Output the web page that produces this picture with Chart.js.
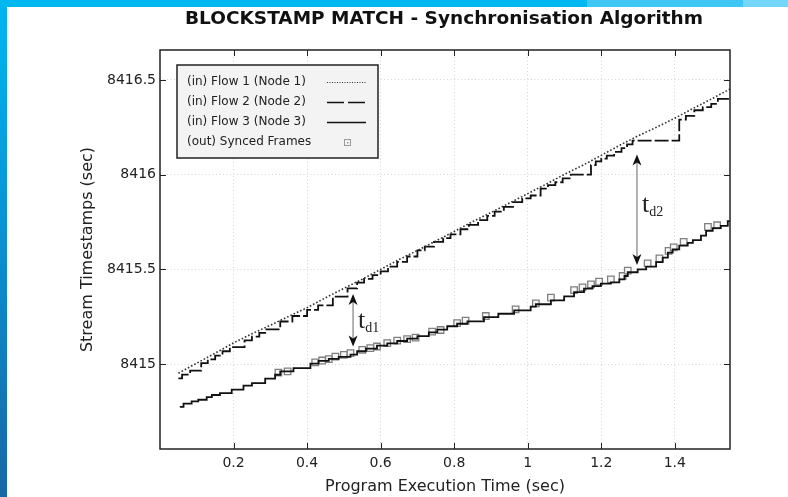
<!DOCTYPE html>
<html><head><meta charset="utf-8">
<script src="https://cdn.jsdelivr.net/npm/chart.js@4.4.1/dist/chart.umd.min.js"></script>
<style>
html,body{margin:0;padding:0;background:#fff;width:788px;height:497px;overflow:hidden}
#wrap{position:relative;width:788px;height:497px}
canvas{position:absolute;left:0;top:0}
#leftbar{position:absolute;left:0;top:0;width:7px;height:497px;background:linear-gradient(180deg,#00b6f0 0%,#0a93d3 45%,#1767a6 100%)}
#topbar{position:absolute;left:0;top:0;width:788px;height:7px;background:linear-gradient(90deg,#00b8f0 0%,#00b8f0 74.5%,#3ec6f5 74.5%,#3ec6f5 94.3%,#74d6f8 94.3%,#74d6f8 100%)}
</style></head>
<body><div id="wrap"><canvas id="c" width="788" height="497"></canvas><div id="leftbar"></div><div id="topbar"></div></div>
<script>
const titleText = 'BLOCKSTAMP MATCH - Synchronisation Algorithm';
const xTitle = 'Program Execution Time (sec)';
const yTitle = 'Stream Timestamps (sec)';
const seriesLabels = ['(in) Flow 1 (Node 1)', '(in) Flow 2 (Node 2)', '(in) Flow 3 (Node 3)', '(out) Synced Frames'];

const xTickValues = [0.2, 0.4, 0.6, 0.8, 1.0, 1.2, 1.4];
const xTickLabels = ['0.2', '0.4', '0.6', '0.8', '1', '1.2', '1.4'];
const yTickValues = [8415, 8415.5, 8416, 8416.5];
const yTickLabels = ['8415', '8415.5', '8416', '8416.5'];

const flow1Time = [0.05,0.10,0.15,0.20,0.25,0.30,0.35,0.40,0.45,0.50,0.55,0.60,0.65,0.70,0.75,0.80,0.85,0.90,0.95,1.00,1.05,1.10,1.15,1.20,1.25,1.30,1.35,1.40,1.45,1.50,1.55];
const flow1Stamp = [8414.952,8415.005,8415.058,8415.112,8415.160,8415.205,8415.252,8415.298,8415.350,8415.400,8415.448,8415.500,8415.552,8415.600,8415.650,8415.700,8415.752,8415.800,8415.850,8415.900,8415.950,8416.002,8416.050,8416.102,8416.155,8416.205,8416.250,8416.298,8416.350,8416.400,8416.452];

const flow2Time = [0.050,0.060,0.082,0.112,0.130,0.150,0.170,0.190,0.230,0.250,0.270,0.286,0.327,0.360,0.400,0.430,0.470,0.510,0.536,0.555,0.578,0.600,0.620,0.645,0.672,0.700,0.720,0.745,0.770,0.790,0.817,0.840,0.865,0.890,0.910,0.935,0.960,0.985,1.008,1.035,1.055,1.075,1.095,1.117,1.172,1.185,1.200,1.215,1.235,1.255,1.270,1.285,1.412,1.430,1.453,1.476,1.499,1.517,1.553];
const flow2Stamp = [8414.925,8414.945,8414.966,8415.005,8415.025,8415.045,8415.068,8415.090,8415.125,8415.145,8415.165,8415.183,8415.225,8415.254,8415.286,8415.310,8415.356,8415.400,8415.430,8415.450,8415.470,8415.490,8415.515,8415.540,8415.568,8415.600,8415.620,8415.645,8415.665,8415.685,8415.712,8415.735,8415.760,8415.782,8415.805,8415.830,8415.855,8415.875,8415.890,8415.926,8415.945,8415.960,8415.980,8416.000,8416.050,8416.070,8416.085,8416.100,8416.120,8416.140,8416.160,8416.180,8416.290,8416.310,8416.340,8416.356,8416.374,8416.400,8416.400];

const flow3Time = [0.054,0.064,0.086,0.104,0.127,0.141,0.163,0.195,0.227,0.250,0.286,0.313,0.327,0.363,0.409,0.431,0.459,0.486,0.518,0.536,0.560,0.590,0.618,0.645,0.672,0.700,0.731,0.754,0.781,0.808,0.836,0.881,0.920,0.963,1.008,1.022,1.063,1.099,1.126,1.153,1.176,1.199,1.226,1.249,1.263,1.272,1.299,1.322,1.349,1.367,1.381,1.394,1.412,1.435,1.449,1.471,1.485,1.503,1.525,1.544,1.553];
const flow3Stamp = [8414.774,8414.791,8414.803,8414.812,8414.826,8414.837,8414.847,8414.865,8414.886,8414.900,8414.923,8414.944,8414.962,8414.979,8415.003,8415.017,8415.028,8415.038,8415.050,8415.068,8415.082,8415.098,8415.110,8415.122,8415.135,8415.148,8415.168,8415.182,8415.200,8415.213,8415.226,8415.248,8415.266,8415.284,8415.303,8415.316,8415.336,8415.358,8415.380,8415.398,8415.412,8415.425,8415.432,8415.447,8415.465,8415.485,8415.500,8415.515,8415.538,8415.562,8415.588,8415.606,8415.625,8415.640,8415.655,8415.678,8415.703,8415.718,8415.730,8415.755,8415.760];

const syncedTime = [0.322,0.347,0.422,0.441,0.459,0.477,0.500,0.518,0.550,0.572,0.590,0.618,0.645,0.672,0.695,0.740,0.763,0.808,0.831,0.886,0.967,1.022,1.063,1.126,1.149,1.172,1.194,1.226,1.258,1.272,1.326,1.358,1.383,1.397,1.424,1.490,1.515];
const syncedStamp = [8414.955,8414.962,8415.009,8415.019,8415.026,8415.040,8415.049,8415.058,8415.075,8415.084,8415.093,8415.111,8415.124,8415.132,8415.140,8415.172,8415.180,8415.216,8415.230,8415.254,8415.289,8415.321,8415.351,8415.391,8415.405,8415.421,8415.435,8415.447,8415.465,8415.493,8415.532,8415.558,8415.598,8415.616,8415.645,8415.724,8415.733];

// delay annotations (arrows between flows)
const gapTime = [0.525, 1.297];
const gapTop = [8415.37, 8416.107];
const gapBottom = [8415.093, 8415.523];
const gapSub = ['d1', 'd2'];

const pts = (xs, ys) => xs.map((x, i) => ({x: x, y: ys[i]}));

Chart.defaults.font.family = "'DejaVu Sans', sans-serif";
Chart.defaults.color = '#222';

const decor = {
  id: 'decor',
  afterDatasetsDraw(chart) {
    const {ctx, chartArea: a, scales: {x, y}} = chart;
    ctx.save();
    ctx.setLineDash([]);
    // frame
    ctx.strokeStyle = '#222'; ctx.lineWidth = 1.5;
    ctx.strokeRect(a.left, a.top, a.right - a.left, a.bottom - a.top);
    // inward ticks on all sides
    ctx.lineWidth = 1; ctx.beginPath();
    xTickValues.forEach(v => {
      const px = Math.round(x.getPixelForValue(v)) + 0.5;
      ctx.moveTo(px, a.bottom); ctx.lineTo(px, a.bottom - 6);
      ctx.moveTo(px, a.top); ctx.lineTo(px, a.top + 6);
    });
    yTickValues.forEach(v => {
      const py = Math.round(y.getPixelForValue(v)) + 0.5;
      ctx.moveTo(a.left, py); ctx.lineTo(a.left + 6, py);
      ctx.moveTo(a.right, py); ctx.lineTo(a.right - 6, py);
    });
    ctx.stroke();
    // delay arrows
    const labelFrac = [0.645, 0.52];
    gapTime.forEach((t, i) => {
      const px = x.getPixelForValue(t), pt = y.getPixelForValue(gapTop[i]), pb = y.getPixelForValue(gapBottom[i]);
      const hl = 11, hw = 4.5;
      ctx.strokeStyle = '#999'; ctx.lineWidth = 1.5;
      ctx.beginPath(); ctx.moveTo(px, pt + hl - 3); ctx.lineTo(px, pb - hl + 3); ctx.stroke();
      ctx.fillStyle = '#111';
      ctx.beginPath(); ctx.moveTo(px, pt); ctx.lineTo(px - hw, pt + hl); ctx.lineTo(px, pt + hl - 3); ctx.lineTo(px + hw, pt + hl); ctx.closePath(); ctx.fill();
      ctx.beginPath(); ctx.moveTo(px, pb); ctx.lineTo(px - hw, pb - hl); ctx.lineTo(px, pb - hl + 3); ctx.lineTo(px + hw, pb - hl); ctx.closePath(); ctx.fill();
      const lx = px + 5, ly = pt + (pb - pt) * labelFrac[i];
      ctx.fillStyle = '#222'; ctx.textAlign = 'left'; ctx.textBaseline = 'alphabetic';
      ctx.font = "26px 'Liberation Serif', serif";
      ctx.fillText('t', lx, ly);
      const tw = ctx.measureText('t').width;
      ctx.font = "14px 'Liberation Serif', serif";
      ctx.fillText(gapSub[i], lx + tw, ly + 4);
    });
    // legend
    const L = a.left + 17, T = a.top + 15, W = 201, H = 93;
    ctx.fillStyle = '#f3f3f3'; ctx.fillRect(L, T, W, H);
    ctx.strokeStyle = '#222'; ctx.lineWidth = 1.5; ctx.strokeRect(L, T, W, H);
    const rowY = [17.3, 37.3, 57, 76.7];
    ctx.font = "12px 'DejaVu Sans', sans-serif"; ctx.textBaseline = 'middle'; ctx.textAlign = 'left';
    chart.data.datasets.forEach((ds, i) => {
      const yy = T + rowY[i];
      ctx.fillStyle = '#222';
      ctx.fillText(ds.label, L + 10, yy);
      if (i < 3) {
        ctx.strokeStyle = ds.borderColor; ctx.lineWidth = i === 0 ? 1 : 1.5;
        ctx.setLineDash(i === 1 ? [17, 4] : (i === 0 ? [1, 1.5] : []));
        ctx.beginPath(); ctx.moveTo(L + 150, Math.round(yy) + 0.5); ctx.lineTo(L + 189, Math.round(yy) + 0.5); ctx.stroke();
        ctx.setLineDash([]);
      } else {
        ctx.strokeStyle = '#999'; ctx.lineWidth = 1;
        ctx.strokeRect(L + 167.5, Math.round(yy) - 2.5, 6, 6);
        ctx.fillStyle = '#999'; ctx.fillRect(L + 170, Math.round(yy), 1.5, 1.5);
      }
    });
    // title
    ctx.font = "bold 18.5px 'DejaVu Sans', sans-serif"; ctx.textAlign = 'center'; ctx.textBaseline = 'alphabetic';
    ctx.fillStyle = '#111';
    ctx.fillText(titleText, (a.left + a.right) / 2 - 1, 24);
    ctx.restore();
  }
};

new Chart(document.getElementById('c').getContext('2d'), {
  type: 'line',
  data: {
    datasets: [
      {label: seriesLabels[0], data: pts(flow1Time, flow1Stamp), borderColor: '#333', borderWidth: 1.6, borderDash: [1.6, 2], pointRadius: 0, fill: false, tension: 0},
      {label: seriesLabels[1], data: pts(flow2Time, flow2Stamp), borderColor: '#111', borderWidth: 1.8, borderDash: [14, 3], stepped: 'before', pointRadius: 0, fill: false},
      {label: seriesLabels[2], data: pts(flow3Time, flow3Stamp), borderColor: '#111', borderWidth: 1.8, stepped: 'before', pointRadius: 0, fill: false},
      {label: seriesLabels[3], data: pts(syncedTime, syncedStamp), showLine: false, pointStyle: 'rect', pointRadius: 4.6, pointBorderColor: '#808080', pointBackgroundColor: '#f6f6f6', pointBorderWidth: 1.3}
    ]
  },
  options: {
    responsive: false, animation: false, devicePixelRatio: 1,
    layout: {padding: {top: 50, right: 58, left: 0, bottom: 0}},
    plugins: {legend: {display: false}, tooltip: {enabled: false}, title: {display: false}},
    scales: {
      x: {
        type: 'linear', min: 0, max: 1.55,
        afterBuildTicks: s => { s.ticks = xTickValues.map(v => ({value: v})); },
        ticks: {callback: (v, i) => xTickLabels[i], font: {size: 14}, padding: 6, maxRotation: 0, autoSkip: false, color: '#222'},
        grid: {color: '#d4d4d4', lineWidth: 1, drawTicks: false},
        border: {display: false, dash: [1, 2.5]},
        title: {display: true, text: xTitle, font: {size: 16}, padding: {top: 0, bottom: 1}, color: '#222'},
        afterFit: s => { s.height = 48; }
      },
      y: {
        type: 'linear', min: 8414.552, max: 8416.658,
        afterBuildTicks: s => { s.ticks = yTickValues.map(v => ({value: v})); },
        ticks: {callback: (v, i) => yTickLabels[i], font: {size: 14}, padding: 4, color: '#222'},
        grid: {color: '#d4d4d4', lineWidth: 1, drawTicks: false},
        border: {display: false, dash: [1, 2.5]},
        title: {display: true, text: yTitle, font: {size: 16}, padding: {top: 78, bottom: 0}, color: '#222'},
        afterFit: s => { s.width = 160; }
      }
    }
  },
  plugins: [decor]
});
</script></body></html>
